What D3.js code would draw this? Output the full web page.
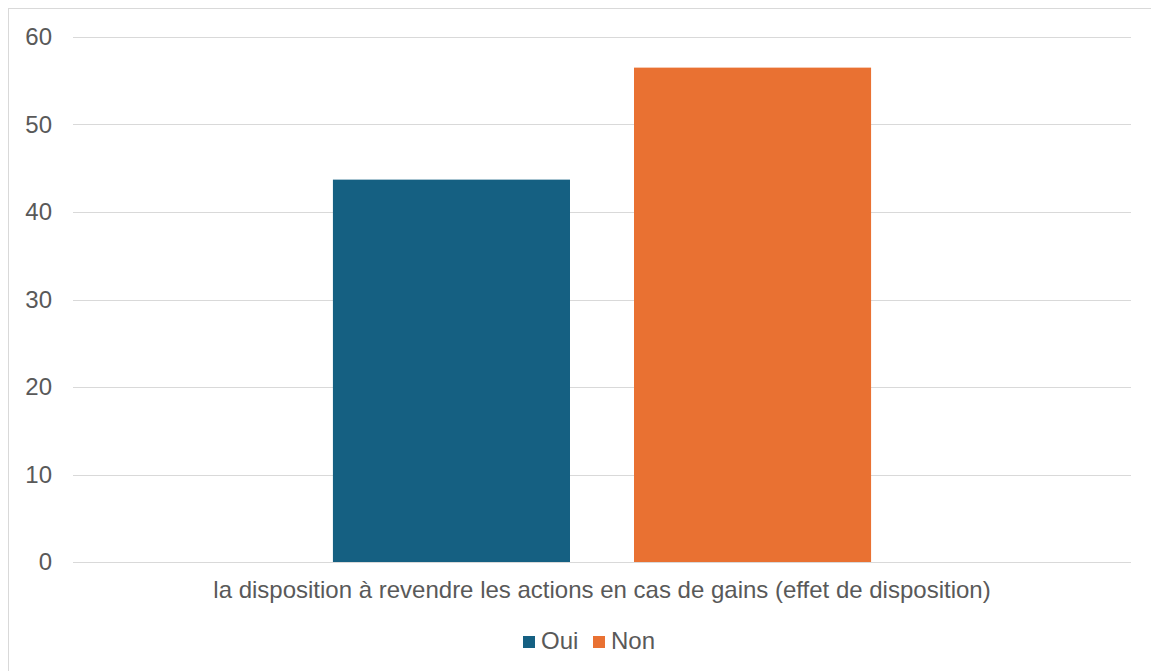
<!DOCTYPE html>
<html>
<head>
<meta charset="utf-8">
<script src="https://cdn.jsdelivr.net/npm/d3@7"></script>
<style>
  body { margin: 0; background: #fff; }
  svg { display: block; font-family: "Liberation Sans", Arial, sans-serif; }
</style>
</head>
<body>
<div id="chart"></div>
<script>
// chart data
var categories = ["la disposition à revendre les actions en cas de gains (effet de disposition)"];
var series_names = ["Oui", "Non"];
var oui_values = [43.7];
var non_values = [56.5];
var y_ticks = [0, 10, 20, 30, 40, 50, 60];
var series_colors = ["#156082", "#E97132"];

const total_width = 1151;
const total_height = 671;
const plot = {left: 73, right: 1131, top: 37, bottom: 562};
const font_size = "24px";

var svg = d3.select("#chart").append("svg").attr("width", total_width).attr("height", total_height);

// outer chart border
svg.append("rect").attr("x", 8.5).attr("y", 8.5).attr("width", total_width + 10).attr("height", total_height + 10)
  .style("fill", "none").style("stroke", "#d9d9d9").style("stroke-width", 1);

var y = d3.scaleLinear().domain([0, 60]).range([plot.bottom, plot.top]);
var x0 = d3.scaleBand().domain(categories).range([plot.left, plot.right]).paddingInner(0).paddingOuter(0.483);
var x1 = d3.scaleBand().domain(series_names).range([0, x0.bandwidth()]).paddingInner(0.2126).paddingOuter(0);

// gridlines
svg.append("g").selectAll("line").data(y_ticks).join("line")
  .attr("x1", plot.left).attr("x2", plot.right)
  .attr("y1", function(d) {return Math.round(y(d)) + 0.5})
  .attr("y2", function(d) {return Math.round(y(d)) + 0.5})
  .style("stroke", "#d9d9d9").style("stroke-width", 1);

// y axis labels
var yAxis = d3.axisLeft(y).tickValues(y_ticks).tickSize(0).tickPadding(0);
var yg = svg.append("g").attr("transform", "translate(52,0)").call(yAxis);
yg.select(".domain").remove();
yg.selectAll("text").style("font-size", font_size).style("fill", "#595959").style("font-family", "'Liberation Sans', Arial, sans-serif");

// bars
var rows = categories.map(function(c, i) {return {cat: c, values: [oui_values[i], non_values[i]]}});
var groups = svg.append("g").selectAll("g").data(rows).join("g")
  .attr("transform", function(d) {return "translate(" + x0(d.cat) + ",0)"});
groups.selectAll("rect").data(function(d) {return d.values.map(function(v, j) {return {name: series_names[j], value: v, color: series_colors[j]}})})
  .join("rect")
  .attr("x", function(d) {return x1(d.name)})
  .attr("width", x1.bandwidth())
  .attr("y", function(d) {return y(d.value)})
  .attr("height", function(d) {return y(0) - y(d.value)})
  .style("fill", function(d) {return d.color});

// category label
svg.append("g").selectAll("text").data(categories).join("text")
  .attr("x", function(d) {return x0(d) + x0.bandwidth() / 2})
  .attr("y", 598)
  .attr("text-anchor", "middle")
  .style("font-size", font_size).style("fill", "#595959")
  .text(function(d) {return d});

// legend
var legend_x = [523, 593];
var legend = svg.append("g").selectAll("g").data(series_names).join("g")
  .attr("transform", function(d, i) {return "translate(" + legend_x[i] + ",636)"});
legend.append("rect").attr("width", 12).attr("height", 12)
  .style("fill", function(d, i) {return series_colors[i]});
legend.append("text").attr("x", 18).attr("y", 13)
  .style("font-size", font_size).style("fill", "#595959")
  .text(function(d) {return d});
</script>
</body>
</html>
